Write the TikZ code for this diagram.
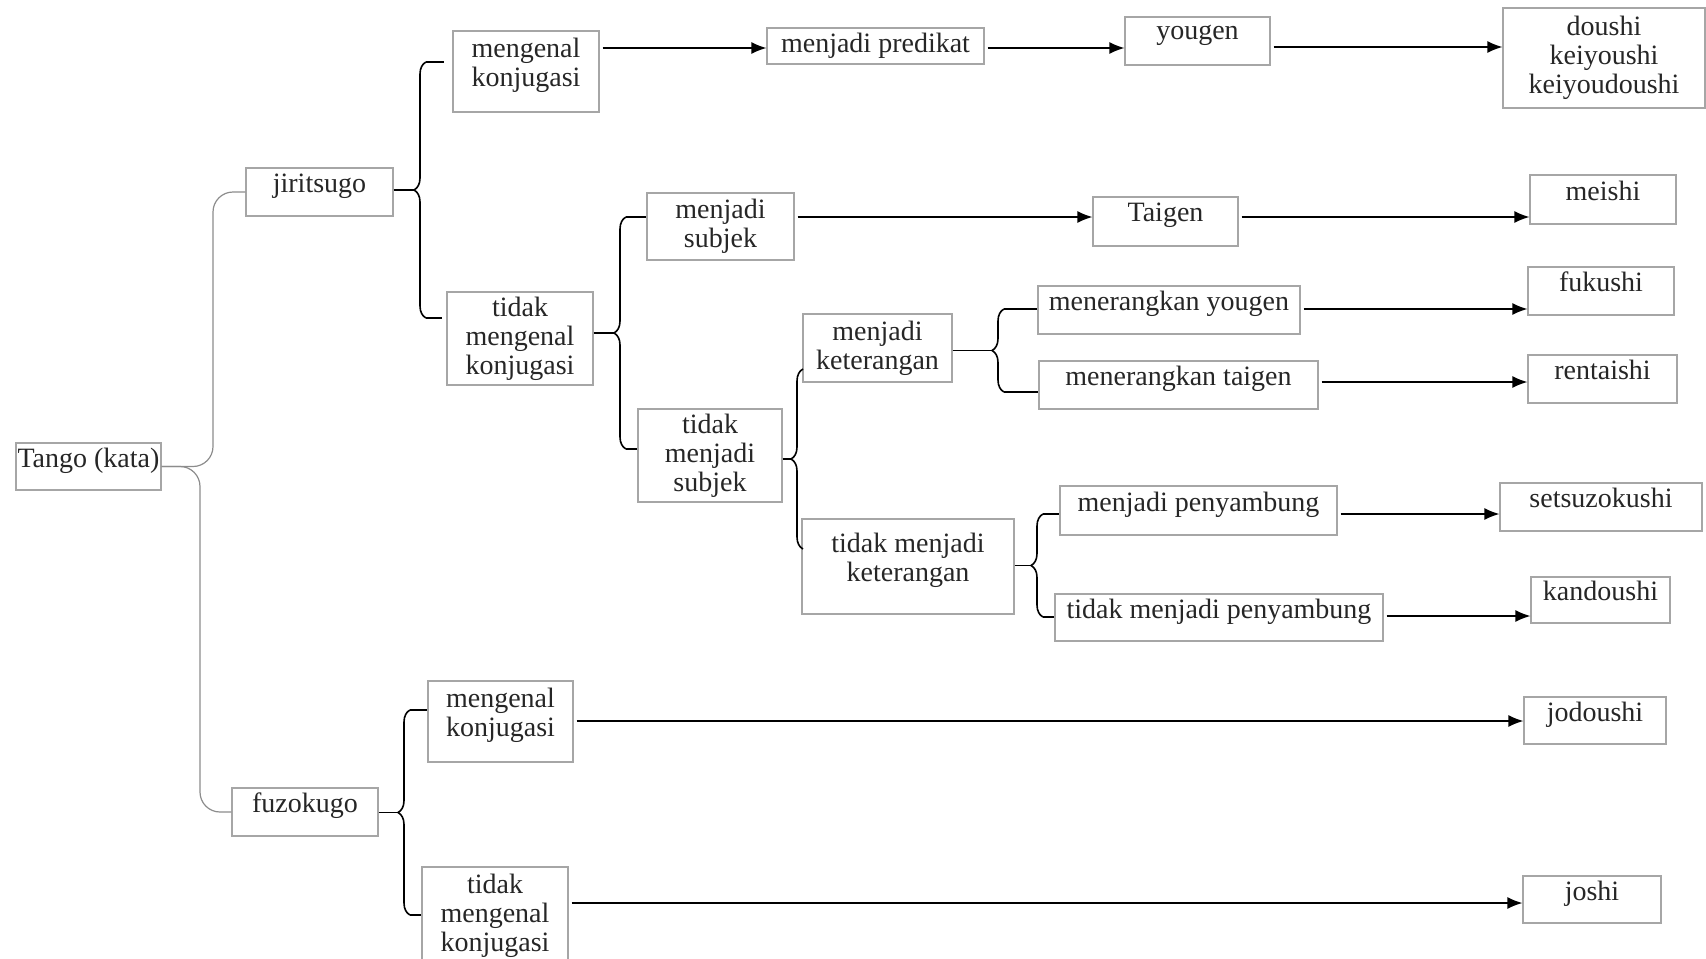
\documentclass[tikz,border=0pt]{standalone}
\usepackage{fontspec}
\setmainfont{Liberation Serif}
\usepackage{tikz}
\usetikzlibrary{arrows.meta,decorations.pathreplacing}

\tikzset{
  kotak/.style={draw=black!35, line width=0.6pt, inner sep=0pt, align=center,
    font=\fontsize{14}{14.5}\selectfont, text=black!85},
  naik/.style={execute at end node={\rule[-9pt]{0pt}{0pt}}},
  panah/.style={line width=0.7pt, -{Latex[length=7.5pt,width=6pt]}, shorten <=1.5pt},
  kurung/.style={line width=0.8pt, decorate, decoration={brace, amplitude=6pt}},
  garis/.style={line width=0.8pt},
  cabang/.style={draw=black!45, line width=0.6pt, rounded corners=10pt}
}

\begin{document}
\begin{tikzpicture}[x=0.5pt, y=-0.5pt]

\useasboundingbox (0,0) rectangle (1706,958);

\node[kotak,naik,minimum width=72.5pt,minimum height=23.5pt] (tango) at (88.5,466.5) {Tango (kata)};
\node[kotak,naik,minimum width=73.5pt,minimum height=24pt] (jiri) at (319.5,192) {jiritsugo};
\node[kotak,naik,minimum width=73pt,minimum height=24pt] (fuzo) at (305,812) {fuzokugo};

\node[kotak,naik,minimum width=73pt,minimum height=40.5pt] (mk1) at (526,71.5) {mengenal\\konjugasi};
\node[kotak,minimum width=73pt,minimum height=46.5pt] (tmk1) at (520,338.5) {tidak\\mengenal\\konjugasi};
\node[kotak,naik,minimum width=72.5pt,minimum height=40.5pt] (mk2) at (500.5,721.5) {mengenal\\konjugasi};
\node[kotak,minimum width=73pt,minimum height=49pt] (tmk2) at (495,916) {tidak\\mengenal\\konjugasi};

\node[kotak,minimum width=108.5pt,minimum height=18pt] (mp) at (875.5,46) {menjadi predikat};
\node[kotak,naik,minimum width=72.5pt,minimum height=24pt] (yg) at (1197.5,41) {yougen};
\node[kotak,minimum width=101pt,minimum height=50pt] (doushi) at (1604,58) {doushi\\keiyoushi\\keiyoudoushi};

\node[kotak,minimum width=73.5pt,minimum height=33.5pt] (ms) at (720.5,226.5) {menjadi\\subjek};
\node[kotak,naik,minimum width=72.5pt,minimum height=24.5pt] (taigen) at (1165.5,221.5) {Taigen};
\node[kotak,naik,minimum width=73pt,minimum height=24.5pt] (meishi) at (1603,199.5) {meishi};

\node[kotak,minimum width=72pt,minimum height=46.5pt] (tms) at (710,455.5) {tidak\\menjadi\\subjek};
\node[kotak,minimum width=74.5pt,minimum height=34pt] (mket) at (877.5,348) {menjadi\\keterangan};
\node[kotak,naik,minimum width=106pt,minimum height=47.5pt] (tmket) at (908,566.5) {tidak menjadi\\keterangan};

\node[kotak,naik,minimum width=131pt,minimum height=24pt] (mky) at (1169,310) {menerangkan yougen};
\node[kotak,naik,minimum width=139.5pt,minimum height=24pt] (mkt) at (1178.5,385) {menerangkan taigen};
\node[kotak,naik,minimum width=73pt,minimum height=24pt] (fukushi) at (1601,291) {fukushi};
\node[kotak,naik,minimum width=74.5pt,minimum height=24pt] (rentaishi) at (1602.5,379) {rentaishi};

\node[kotak,naik,minimum width=138.5pt,minimum height=24.5pt] (mpy) at (1198.5,510.5) {menjadi penyambung};
\node[kotak,naik,minimum width=164pt,minimum height=23.5pt] (tmpy) at (1219,617.5) {tidak menjadi penyambung};
\node[kotak,naik,minimum width=101pt,minimum height=24pt] (setsu) at (1601,507) {setsuzokushi};
\node[kotak,naik,minimum width=69.5pt,minimum height=23pt] (kandoushi) at (1600.5,600) {kandoushi};

\node[kotak,naik,minimum width=71pt,minimum height=23.5pt] (jodoushi) at (1595,720.5) {jodoushi};
\node[kotak,naik,minimum width=69pt,minimum height=23.5pt] (joshi) at (1592,899.5) {joshi};

% tango (kata)
\coordinate (c1) at (213,192);
\coordinate (c2) at (200,812);
\draw[cabang] (tango.east) -| (c1) -- (jiri.west);
\draw[cabang] (tango.east) -| (c2) -- (fuzo.west);

% kurung kurawal
\coordinate (b1a) at (426,62);   \coordinate (b1b) at (426,318);  \coordinate (t1) at (414,190);
\coordinate (b2a) at (626,217);  \coordinate (b2b) at (626,449);  \coordinate (t2) at (614,333);
\coordinate (b3a) at (803,369);  \coordinate (b3b) at (803,549);  \coordinate (t3) at (791,459);
\coordinate (b4a) at (1004,309); \coordinate (b4b) at (1004,392); \coordinate (t4) at (992,350.5);
\coordinate (b5a) at (1043,514); \coordinate (b5b) at (1043,617); \coordinate (t5) at (1031,565.5);
\coordinate (b6a) at (410,710);  \coordinate (b6b) at (410,915);  \coordinate (t6) at (398,812.5);

\draw[kurung] (b1b) -- (b1a);
\draw[kurung] (b2b) -- (b2a);
\draw[kurung] (b3b) -- (b3a);
\draw[kurung] (b4b) -- (b4a);
\draw[kurung] (b5b) -- (b5a);
\draw[kurung] (b6b) -- (b6a);

\draw[garis] (jiri.east |- t1) -- (t1);
\draw[garis] (tmk1.east |- t2) -- (t2);
\draw[garis] (tms.east |- t3) -- (t3);
\draw[garis] (mket.east |- t4) -- (t4);
\draw[garis] (tmket.east |- t5) -- (t5);
\draw[garis] (fuzo.east |- t6) -- (t6);

\draw[garis,shorten >=4pt] (b1a) -- (mk1.west |- b1a);
\draw[garis,shorten >=2pt] (b1b) -- (tmk1.west |- b1b);
\draw[garis] (b2a) -- (ms.west |- b2a);
\draw[garis] (b2b) -- (tms.west |- b2b);
\draw[garis] (b4a) -- (mky.west |- b4a);
\draw[garis] (b4b) -- (mkt.west |- b4b);
\draw[garis] (b5a) -- (mpy.west |- b5a);
\draw[garis] (b5b) -- (tmpy.west |- b5b);
\draw[garis] (b6a) -- (mk2.west |- b6a);
\draw[garis] (b6b) -- (tmk2.west |- b6b);

% panah
\draw[panah] (mk1.east |- 0,48) -- (mp.west |- 0,48);
\draw[panah] (mp.east |- 0,48) -- (yg.west |- 0,48);
\draw[panah] (yg.east |- 0,47) -- (doushi.west |- 0,47);
\draw[panah] (ms.east |- 0,217) -- (taigen.west |- 0,217);
\draw[panah] (taigen.east |- 0,217) -- (meishi.west |- 0,217);
\draw[panah] (mky.east |- 0,309) -- (fukushi.west |- 0,309);
\draw[panah] (mkt.east |- 0,382) -- (rentaishi.west |- 0,382);
\draw[panah] (mpy.east |- 0,514) -- (setsu.west |- 0,514);
\draw[panah] (tmpy.east |- 0,616) -- (kandoushi.west |- 0,616);
\draw[panah] (mk2.east |- 0,721) -- (jodoushi.west |- 0,721);
\draw[panah] (tmk2.east |- 0,903) -- (joshi.west |- 0,903);

\end{tikzpicture}
\end{document}
